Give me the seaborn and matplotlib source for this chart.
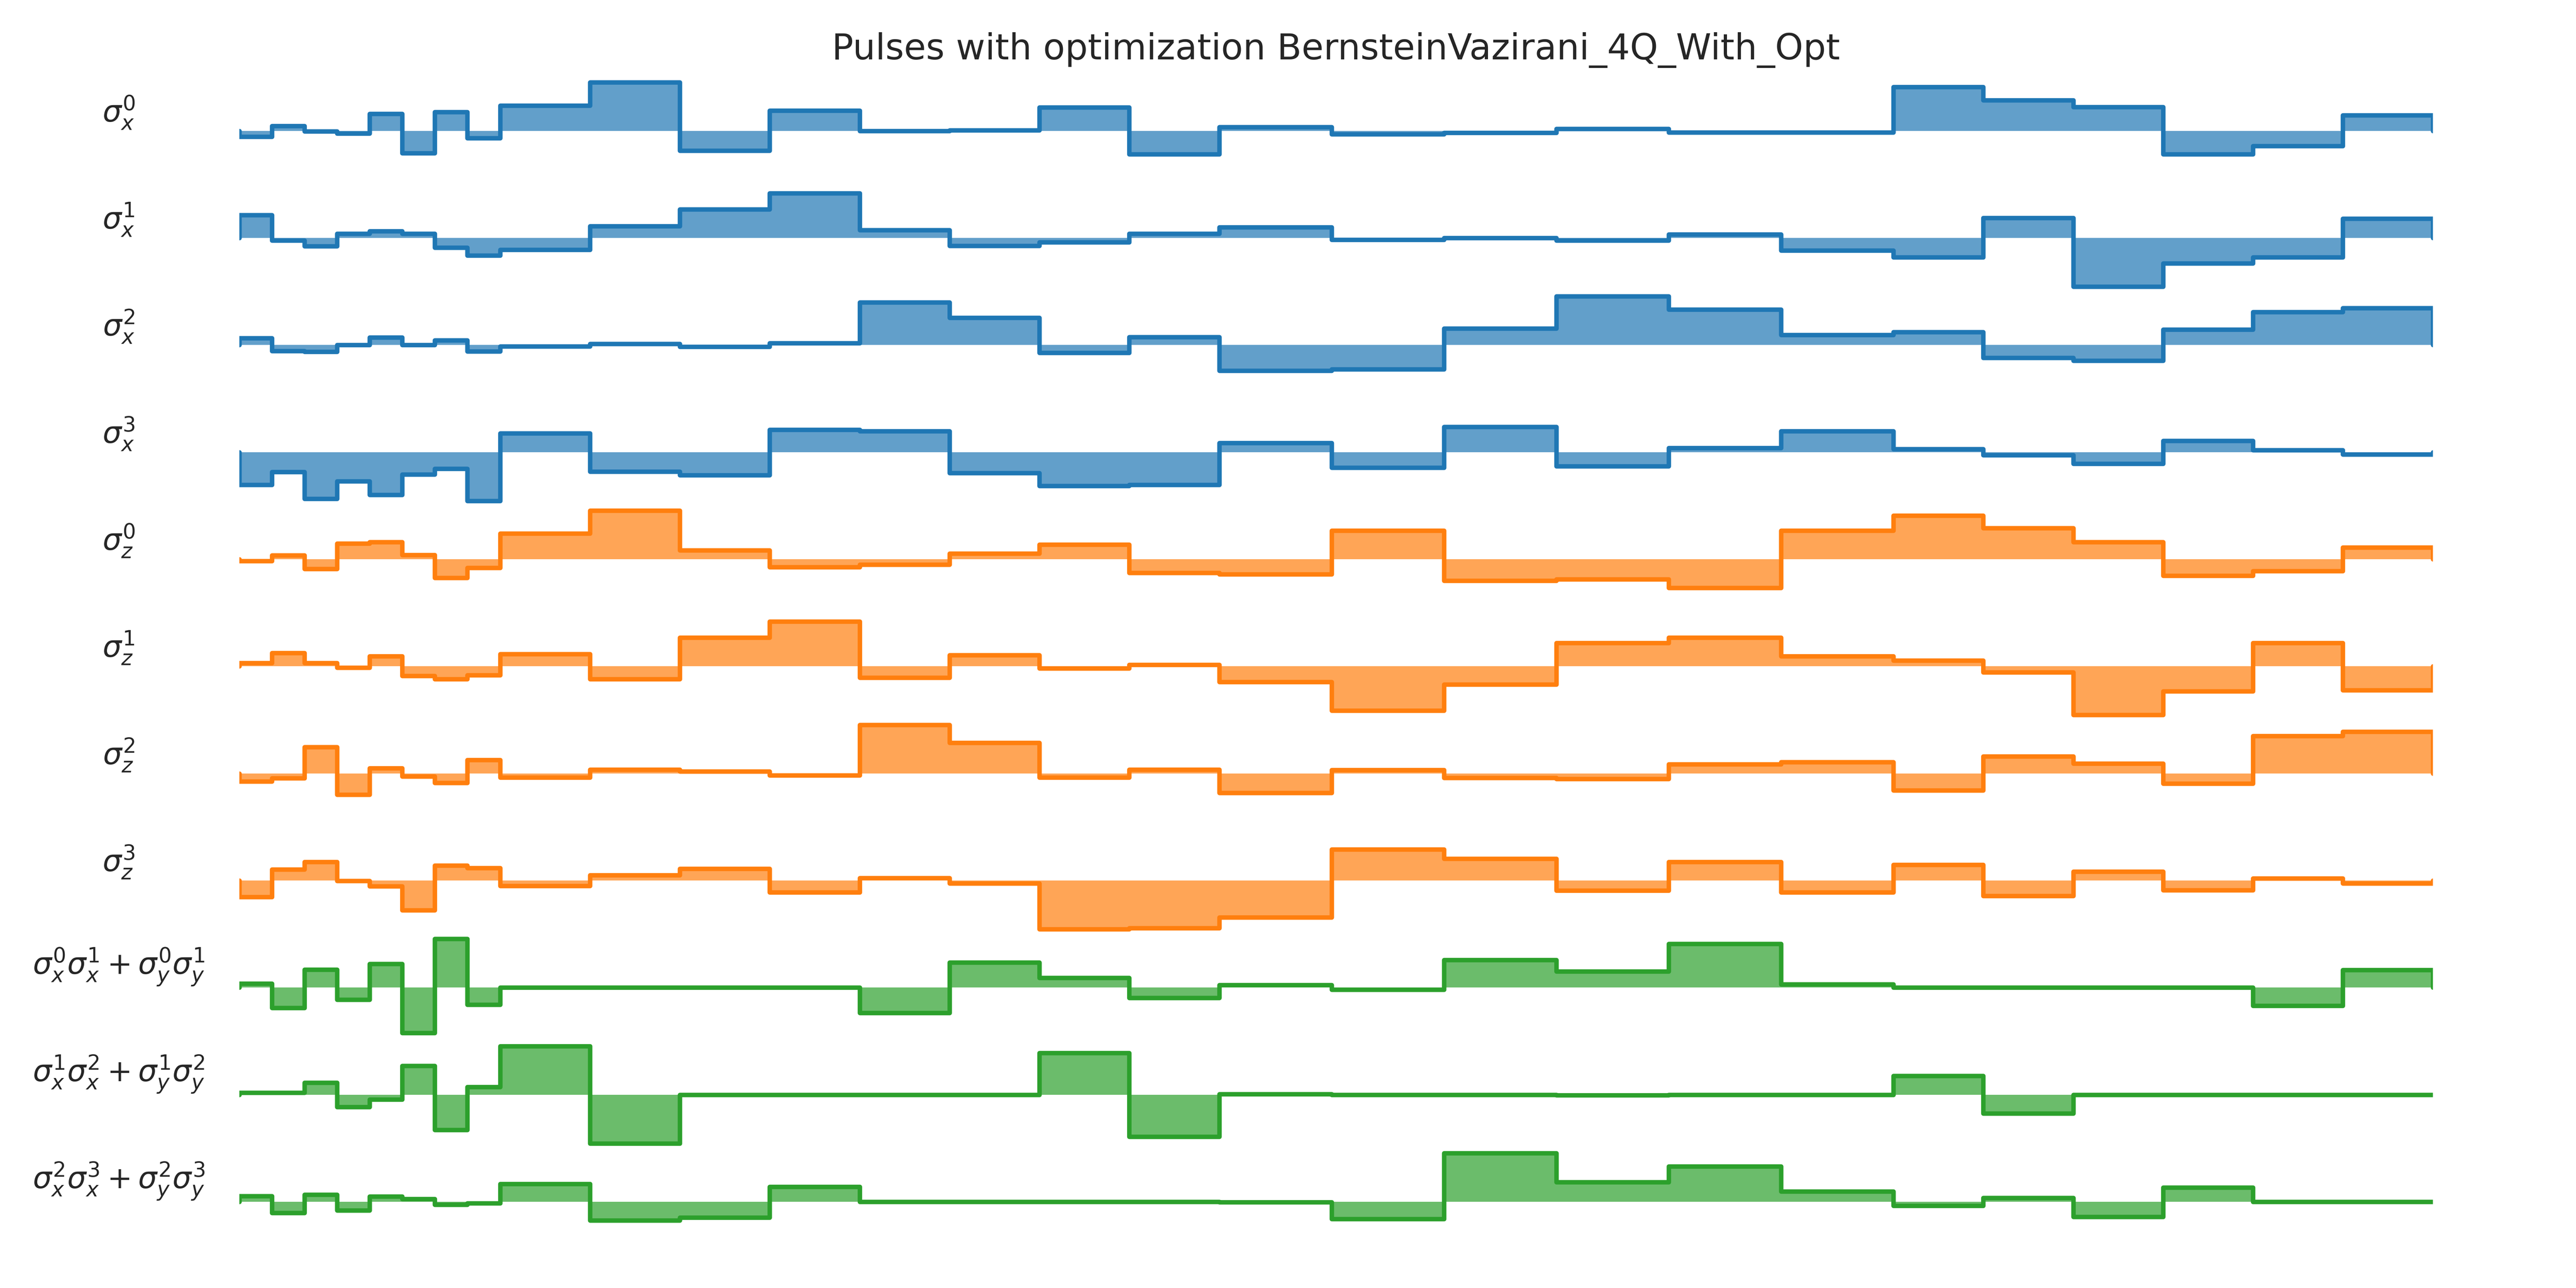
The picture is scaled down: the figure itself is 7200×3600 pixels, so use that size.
import numpy as np
import matplotlib
matplotlib.use("Agg")
import matplotlib.pyplot as plt
import seaborn as sns

# time slots: 8 short, 8 medium, 6 long, 6 medium
slot_widths = [0.29] * 8 + [0.8] * 8 + [1.0] * 6 + [0.8] * 6

# normalised pulse amplitudes per time slot
sx0 = [-0.12, 0.10, -0.01, -0.055, 0.35, -0.46, 0.39, -0.15, 0.52, 1.0, -0.41, 0.42, 0.0, 0.01,
       0.48, -0.48, 0.08, -0.07, -0.04, 0.04, -0.03, -0.03, 0.90, 0.63, 0.49, -0.48, -0.31, 0.32]
sx1 = [0.47, -0.05, -0.17, 0.085, 0.14, 0.09, -0.20, -0.36, -0.24, 0.24, 0.585, 0.915, 0.16, -0.165,
       -0.09, 0.09, 0.22, -0.04, 0.0, -0.05, 0.07, -0.26, -0.40, 0.41, -1.0, -0.52, -0.40, 0.40]
sx2 = [0.14, -0.12, -0.14, 0.0, 0.16, 0.0, 0.10, -0.13, -0.025, 0.025, -0.035, 0.04, 0.88, 0.56,
       -0.16, 0.165, -0.525, -0.50, 0.34, 1.0, 0.73, 0.21, 0.27, -0.26, -0.32, 0.32, 0.68, 0.76]
sx3 = [-0.67, -0.41, -0.96, -0.60, -0.88, -0.46, -0.34, -1.0, 0.385, -0.40, -0.47, 0.46, 0.43, -0.43,
       -0.69, -0.67, 0.19, -0.32, 0.52, -0.29, 0.085, 0.43, 0.06, -0.06, -0.24, 0.23, 0.04, -0.05]
sz0 = [-0.04, 0.08, -0.20, 0.32, 0.35, 0.09, -0.38, -0.18, 0.53, 1.0, 0.18, -0.165, -0.11, 0.12,
       0.30, -0.28, -0.31, 0.59, -0.44, -0.41, -0.59, 0.59, 0.90, 0.64, 0.35, -0.34, -0.24, 0.24]
sz1 = [0.07, 0.275, 0.07, -0.03, 0.21, -0.20, -0.26, -0.18, 0.25, -0.26, 0.59, 0.92, -0.23, 0.23,
       -0.04, 0.03, -0.32, -0.91, -0.37, 0.48, 0.59, 0.21, 0.12, -0.12, -1.0, -0.51, 0.48, -0.49]
sz2 = [-0.165, -0.10, 0.54, -0.44, 0.11, -0.06, -0.195, 0.275, -0.085, 0.08, 0.04, -0.04, 1.0, 0.63,
       -0.085, 0.08, -0.40, 0.07, -0.09, -0.11, 0.19, 0.23, -0.35, 0.35, 0.20, -0.21, 0.77, 0.86]
sz3 = [-0.34, 0.23, 0.38, -0.01, -0.12, -0.61, 0.31, 0.26, -0.11, 0.11, 0.24, -0.245, 0.05, -0.06,
       -1.0, -0.98, -0.76, 0.64, 0.45, -0.21, 0.385, -0.245, 0.32, -0.32, 0.18, -0.20, 0.04, -0.06]
g01 = [0.085, -0.42, 0.37, -0.25, 0.49, -0.93, 1.0, -0.35, 0.0, 0.0, 0.0, 0.0, -0.52, 0.52,
       0.20, -0.21, 0.05, -0.04, 0.57, 0.33, 0.90, 0.065, 0.0, 0.0, 0.0, 0.0, -0.37, 0.36]
g12 = [0.04, 0.04, 0.25, -0.25, -0.10, 0.59, -0.72, 0.155, 1.0, -1.0, 0.0, 0.0, 0.0, 0.0,
       0.86, -0.86, 0.01, 0.0, 0.0, -0.01, 0.0, 0.0, 0.385, -0.385, 0.0, 0.0, 0.0, 0.0]
g23 = [0.12, -0.23, 0.145, -0.175, 0.11, 0.06, -0.06, -0.03, 0.37, -0.38, -0.325, 0.31, 0.0, 0.0,
       0.0, 0.0, -0.01, -0.35, 1.0, 0.40, 0.73, 0.21, -0.08, 0.08, -0.31, 0.29, 0.0, 0.0]

pulses = [sx0, sx1, sx2, sx3, sz0, sz1, sz2, sz3, g01, g12, g23]
labels = [r"$\sigma_x^0$", r"$\sigma_x^1$", r"$\sigma_x^2$", r"$\sigma_x^3$",
          r"$\sigma_z^0$", r"$\sigma_z^1$", r"$\sigma_z^2$", r"$\sigma_z^3$",
          r"$\sigma_x^0\sigma_x^1 + \sigma_y^0\sigma_y^1$",
          r"$\sigma_x^1\sigma_x^2 + \sigma_y^1\sigma_y^2$",
          r"$\sigma_x^2\sigma_x^3 + \sigma_y^2\sigma_y^3$"]
groups = [0] * 4 + [1] * 4 + [2] * 3
title = "Pulses with optimization BernsteinVazirani_4Q_With_Opt"

sns.set_style("white")
palette = sns.color_palette("tab10")

fig, axes = plt.subplots(len(pulses), 1, sharex=True, figsize=(12, 6), dpi=600)
fig.subplots_adjust(left=0.0929, right=0.9444, top=0.94, bottom=0.0254, hspace=0)

edges = np.concatenate([[0.0], np.cumsum(slot_widths)])
xs = np.repeat(edges, 2)

for ax, vals, lab, g in zip(axes, pulses, labels, groups):
    color = palette[g]
    ys = np.concatenate([[0.0], np.repeat(vals, 2), [0.0]])
    ax.fill_between(xs, ys, 0, color=color, alpha=0.7, linewidth=0)
    sns.lineplot(x=xs, y=ys, sort=False, estimator=None, color=color, linewidth=1.5, ax=ax)
    ax.set_xlim(edges[0], edges[-1])
    ax.set_ylim(-1.1, 1.1)
    ax.set_yticks([])
    ax.tick_params(bottom=False, labelbottom=False, left=False)
    for sp in ax.spines.values():
        sp.set_visible(False)
    # pulse name left of each row
    ax.text(-0.055, 0.5, lab, transform=ax.transAxes, ha="center", va="bottom", fontsize=10)

axes[0].set_title(title, fontsize=12)

fig.savefig("out.png", dpi=600)
